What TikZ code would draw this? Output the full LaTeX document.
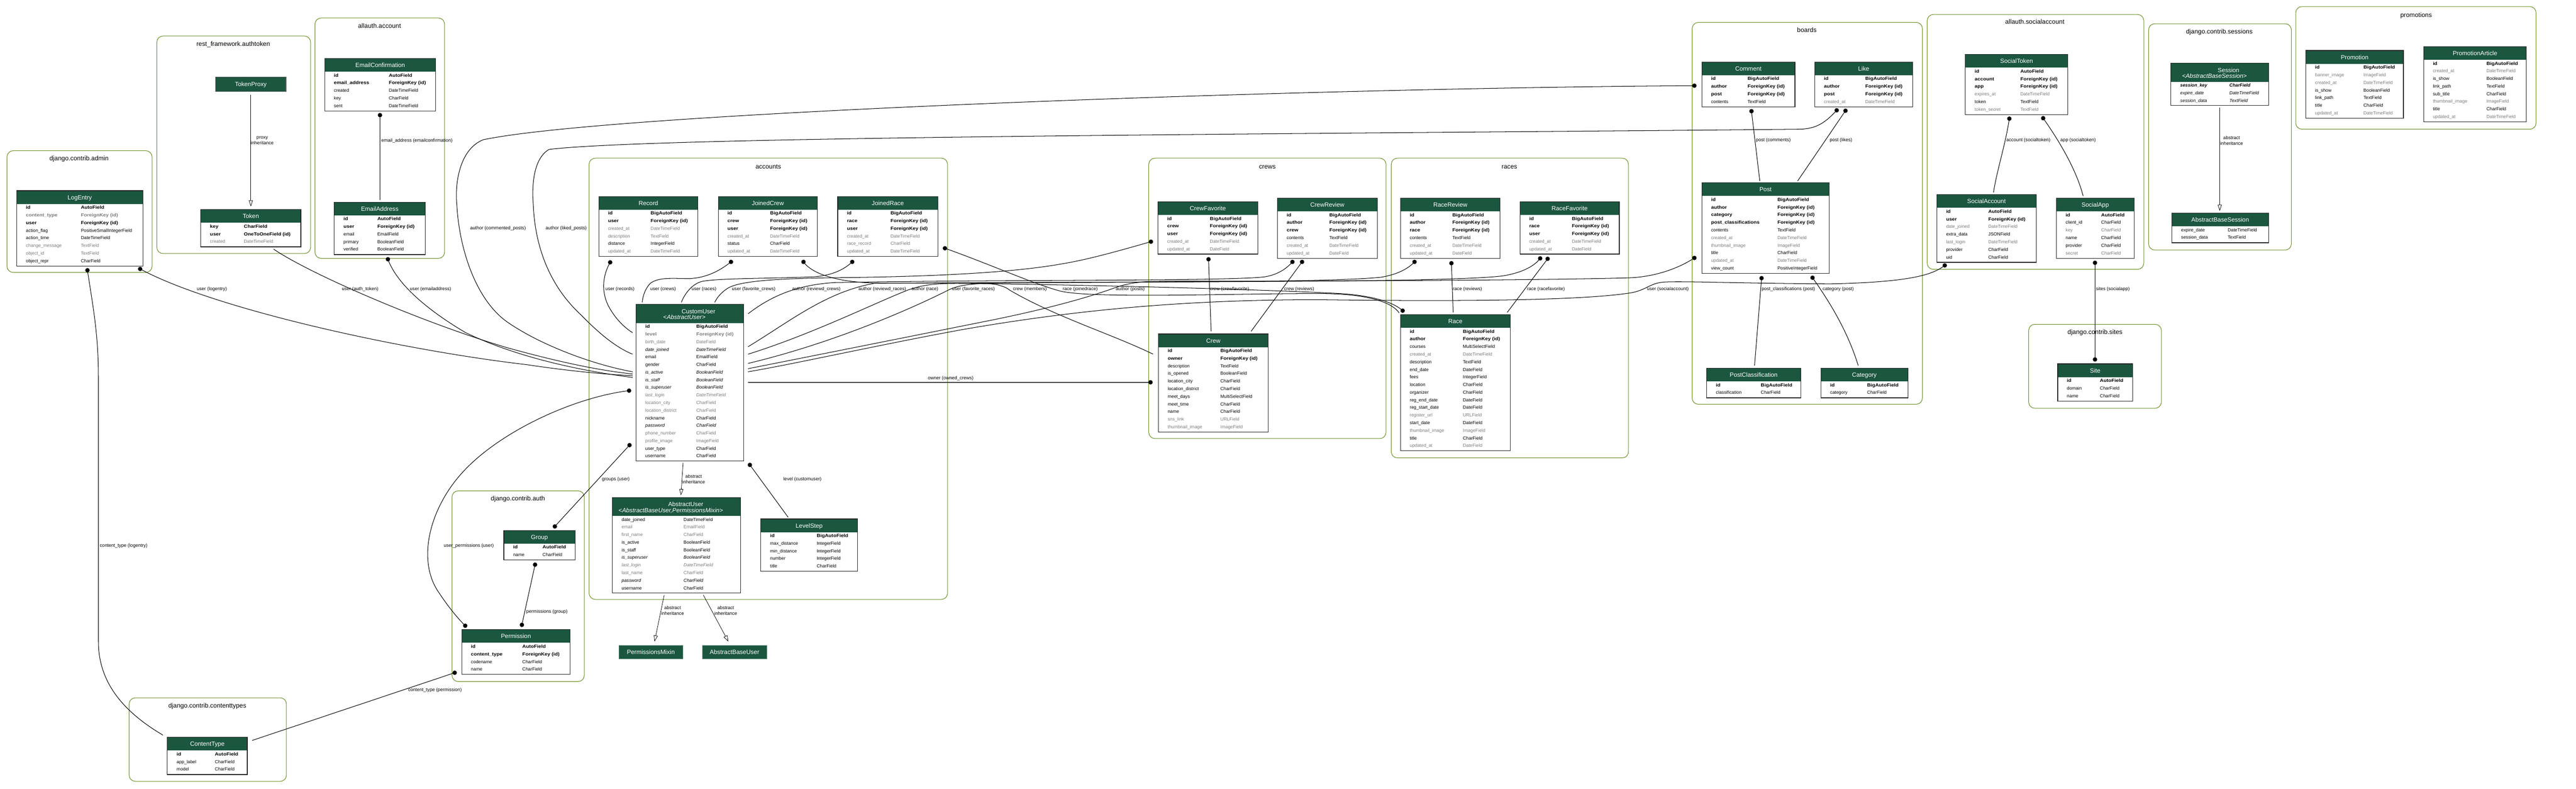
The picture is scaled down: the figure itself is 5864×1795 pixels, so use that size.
\documentclass[tikz,border=0pt]{standalone}
\usepackage{fontspec}
\setmainfont{Liberation Sans}[BoldFeatures={FakeStretch=1.12}]
\usetikzlibrary{arrows.meta}
\definecolor{hdr}{HTML}{1B563F}
\definecolor{olive}{HTML}{698B22}
\definecolor{fgrey}{HTML}{7B7B7B}
\newcommand{\rowfont}{\fontsize{10.3}{12}\selectfont}
\newcommand{\hdrfont}{\fontsize{13.8}{16}\selectfont}
\newcommand{\lblfont}{\fontsize{10.6}{13}\selectfont}
\newcommand{\clfont}{\fontsize{14.5}{17}\selectfont}
% #1 name, #2 x, #3 y, #4 width, #5 height, #6 header height, #7 type column offset, #8 title, #9 rows
\newcommand{\mtable}[9]{%
  \node[tblbox, minimum width=#4pt, minimum height=#5pt, anchor=north west] (#1) at (#2,#3) {};
  \fill[hdr] (#2,#3) rectangle ++(#4,#6);
  \node[hdrtxt] at ({#2+#4/2},{#3+#6/2+5}) {#8};
  \foreach \st/\fn/\ft [count=\i from 0] in {#9} {
    \node[row\st] at ({#2+21},{#3+#6+11.8+17.33*\i}) {\fn};
    \node[row\st] at ({#2+#7},{#3+#6+11.8+17.33*\i}) {\ft};
  }
  \draw[tblborder] (#1.north west) rectangle (#1.south east);
}
\newcommand{\port}[4]{\coordinate (#1) at ([shift={(#3,#4)}]#2.north west);}
\begin{document}
\begin{tikzpicture}[x=1pt,y=-1pt,
  tblbox/.style={fill=white, inner sep=0pt, outer sep=0pt, draw=none},
  tblborder/.style={draw=black!85, line width=1.4pt},
  hdrtxt/.style={text=white, font=\hdrfont, anchor=base, inner sep=0pt},
  rowbase/.style={anchor=base west, inner sep=0pt, font=\rowfont},
  rown/.style={rowbase},
  rowb/.style={rowbase, font=\rowfont\bfseries},
  rowg/.style={rowbase, text=fgrey},
  rowgb/.style={rowbase, text=fgrey, font=\rowfont\bfseries},
  rowi/.style={rowbase, font=\rowfont\itshape},
  rowgi/.style={rowbase, text=fgrey, font=\rowfont\itshape},
  rowbi/.style={rowbase, font=\rowfont\bfseries\itshape},
  cl/.style={draw=olive, line width=1.2pt, rounded corners=14pt},
  cltitle/.style={font=\clfont, anchor=base, inner sep=0pt},
  rel/.style={line width=1.2pt},
  inh/.style={line width=0.9pt, -{Triangle[open, length=14pt, width=9pt]}},
  lbl/.style={font=\lblfont, anchor=base west, inner sep=0pt},
  lbl2/.style={font=\lblfont, align=center, inner sep=0pt},
  absnode/.style={fill=hdr, draw=hdr!70!white, line width=0.8pt, text=white, font=\fontsize{14}{16}\selectfont, inner sep=0pt, outer sep=0pt, anchor=north west}
]
\useasboundingbox (0,0) rectangle (5864,1795);
\fill[white] (0,0) rectangle (5864,1795);

% ---------- clusters ----------
\draw[cl] (16,343) rectangle (346,620);     \node[cltitle] at (180,365) {django.contrib.admin};
\draw[cl] (357,82) rectangle (707,577);     \node[cltitle] at (531,105) {rest\_framework.authtoken};
\draw[cl] (717,41) rectangle (1012,588);    \node[cltitle] at (864,64) {allauth.account};
\draw[cl] (1341,360) rectangle (2157,1364); \node[cltitle] at (1749,384) {accounts};
\draw[cl] (1029,1117) rectangle (1330,1551);\node[cltitle] at (1179,1139) {django.contrib.auth};
\draw[cl] (294,1588) rectangle (652,1778);  \node[cltitle] at (472,1611) {django.contrib.contenttypes};
\draw[cl] (2615,360) rectangle (3155,998);  \node[cltitle] at (2885,384) {crews};
\draw[cl] (3167,360) rectangle (3707,1042); \node[cltitle] at (3436,384) {races};
\draw[cl] (3852,51) rectangle (4376,920);   \node[cltitle] at (4113,73) {boards};
\draw[cl] (4387,33) rectangle (4880,613);   \node[cltitle] at (4632,55) {allauth.socialaccount};
\draw[cl] (4618,738) rectangle (4920,929);  \node[cltitle] at (4769,761) {django.contrib.sites};
\draw[cl] (4891,54) rectangle (5216,569);   \node[cltitle] at (5052,77) {django.contrib.sessions};
\draw[cl] (5226,15) rectangle (5773,294);   \node[cltitle] at (5500,39) {promotions};

% ---------- tables ----------
\mtable{LogEntry}{38}{434}{287}{171.3}{30}{146}{LogEntry}{b/id/AutoField, gb/content\_type/ForeignKey (id), b/user/ForeignKey (id), n/action\_flag/PositiveSmallIntegerField, n/action\_time/DateTimeField, g/change\_message/TextField, g/object\_id/TextField, n/object\_repr/CharField}

\node[tblbox, fill=hdr, minimum width=160pt, minimum height=33pt, anchor=north west] (TokenProxy) at (491,175) {};
\node[hdrtxt] at (571,196.5) {TokenProxy};
\draw[tblborder, draw=black!65] (TokenProxy.north west) rectangle (TokenProxy.south east);

\mtable{Token}{457}{477}{228}{84.7}{30}{98}{Token}{b/key/CharField, b/user/OneToOneField (id), g/created/DateTimeField}
\mtable{EmailConfirmation}{739}{133}{253}{119.3}{30}{146}{EmailConfirmation}{b/id/AutoField, b/email\_address/ForeignKey (id), n/created/DateTimeField, n/key/CharField, n/sent/DateTimeField}
\mtable{EmailAddress}{761}{460}{207}{119.3}{30}{98}{EmailAddress}{b/id/AutoField, b/user/ForeignKey (id), n/email/EmailField, n/primary/BooleanField, n/verified/BooleanField}

\mtable{Record}{1363}{447}{226}{136.7}{30}{118}{Record}{b/id/BigAutoField, b/user/ForeignKey (id), g/created\_at/DateTimeField, g/description/TextField, n/distance/IntegerField, g/updated\_at/DateTimeField}
\mtable{JoinedCrew}{1635}{447}{226}{136.7}{30}{118}{JoinedCrew}{b/id/BigAutoField, b/crew/ForeignKey (id), b/user/ForeignKey (id), g/created\_at/DateTimeField, n/status/CharField, g/updated\_at/DateTimeField}
\mtable{JoinedRace}{1907}{447}{228}{136.7}{30}{120}{JoinedRace}{b/id/BigAutoField, b/race/ForeignKey (id), b/user/ForeignKey (id), g/created\_at/DateTimeField, g/race\_record/CharField, g/updated\_at/DateTimeField}

\mtable{CustomUser}{1448}{693}{245}{355.6}{42}{137}{}{b/id/BigAutoField, gb/level/ForeignKey (id), g/birth\_date/DateField, i/date\_joined/DateTimeField, n/email/EmailField, n/gender/CharField, i/is\_active/BooleanField, i/is\_staff/BooleanField, i/is\_superuser/BooleanField, gi/last\_login/DateTimeField, g/location\_city/CharField, g/location\_district/CharField, n/nickname/CharField, i/password/CharField, g/phone\_number/CharField, g/profile\_image/ImageField, n/user\_type/CharField, n/username/CharField}
\node[hdrtxt] at (1590,714) {CustomUser};
\node[hdrtxt] at (1558,727) {<\textit{AbstractUser}>};

\mtable{AbstractUser}{1394}{1132}{292}{217}{42}{162}{}{n/date\_joined/DateTimeField, g/email/EmailField, g/first\_name/CharField, n/is\_active/BooleanField, n/is\_staff/BooleanField, i/is\_superuser/BooleanField, gi/last\_login/DateTimeField, g/last\_name/CharField, i/password/CharField, n/username/CharField}
\node[hdrtxt] at (1561,1152) {AbstractUser};
\node[hdrtxt] at (1527,1166) {<\textit{AbstractBaseUser,PermissionsMixin}>};

\mtable{LevelStep}{1732}{1181}{220}{119.3}{30}{127}{LevelStep}{b/id/BigAutoField, n/max\_distance/IntegerField, n/min\_distance/IntegerField, n/number/IntegerField, n/title/CharField}

\node[absnode, minimum width=145pt, minimum height=30pt] (PermissionsMixin) at (1409,1469) {PermissionsMixin};
\node[absnode, minimum width=146pt, minimum height=30pt] (AbstractBaseUser) at (1599,1469) {AbstractBaseUser};

\mtable{Group}{1147}{1207}{162}{67.3}{30}{88}{Group}{b/id/AutoField, n/name/CharField}
\mtable{Permission}{1051}{1433}{247}{102}{30}{138}{Permission}{b/id/AutoField, b/content\_type/ForeignKey (id), n/codename/CharField, n/name/CharField}
\mtable{ContentType}{381}{1678}{182}{84.7}{30}{108}{ContentType}{b/id/AutoField, n/app\_label/CharField, n/model/CharField}

\mtable{CrewFavorite}{2636}{459}{227}{119.3}{30}{118}{CrewFavorite}{b/id/BigAutoField, b/crew/ForeignKey (id), b/user/ForeignKey (id), g/created\_at/DateTimeField, g/updated\_at/DateField}
\mtable{CrewReview}{2908}{451}{227}{136.7}{30}{118}{CrewReview}{b/id/BigAutoField, b/author/ForeignKey (id), b/crew/ForeignKey (id), n/contents/TextField, g/created\_at/DateTimeField, g/updated\_at/DateField}
\mtable{Crew}{2637}{760}{250}{223.3}{30}{141}{Crew}{b/id/BigAutoField, b/owner/ForeignKey (id), n/description/TextField, n/is\_opened/BooleanField, n/location\_city/CharField, n/location\_district/CharField, n/meet\_days/MultiSelectField, n/meet\_time/CharField, n/name/CharField, g/sns\_link/URLField, g/thumbnail\_image/ImageField}

\mtable{RaceReview}{3188}{451}{227}{136.7}{30}{118}{RaceReview}{b/id/BigAutoField, b/author/ForeignKey (id), b/race/ForeignKey (id), n/contents/TextField, g/created\_at/DateTimeField, g/updated\_at/DateField}
\mtable{RaceFavorite}{3460}{459}{226}{119.3}{30}{118}{RaceFavorite}{b/id/BigAutoField, b/race/ForeignKey (id), b/user/ForeignKey (id), g/created\_at/DateTimeField, g/updated\_at/DateField}
\mtable{Race}{3188}{716}{250}{310}{30}{142}{Race}{b/id/BigAutoField, b/author/ForeignKey (id), n/courses/MultiSelectField, g/created\_at/DateTimeField, n/description/TextField, n/end\_date/DateField, n/fees/IntegerField, n/location/CharField, n/organizer/CharField, n/reg\_end\_date/DateField, n/reg\_start\_date/DateField, g/register\_url/URLField, n/start\_date/DateField, g/thumbnail\_image/ImageField, n/title/CharField, g/updated\_at/DateField}

\mtable{Comment}{3874}{141}{212}{102}{30}{104}{Comment}{b/id/BigAutoField, b/author/ForeignKey (id), b/post/ForeignKey (id), n/contents/TextField}
\mtable{Like}{4131}{141}{223}{102}{30}{115}{Like}{b/id/BigAutoField, b/author/ForeignKey (id), b/post/ForeignKey (id), g/created\_at/DateTimeField}
\mtable{Post}{3874}{416}{290}{206}{30}{172}{Post}{b/id/BigAutoField, b/author/ForeignKey (id), b/category/ForeignKey (id), b/post\_classifications/ForeignKey (id), n/contents/TextField, g/created\_at/DateTimeField, g/thumbnail\_image/ImageField, n/title/CharField, g/updated\_at/DateTimeField, n/view\_count/PositiveIntegerField}
\mtable{PostClassification}{3885}{838}{214}{67.3}{30}{123}{PostClassification}{b/id/BigAutoField, n/classification/CharField}
\mtable{Category}{4145}{838}{198}{67.3}{30}{105}{Category}{b/id/BigAutoField, n/category/CharField}

\mtable{SocialToken}{4474}{124}{233}{136.7}{30}{125}{SocialToken}{b/id/AutoField, b/account/ForeignKey (id), b/app/ForeignKey (id), g/expires\_at/DateTimeField, n/token/TextField, g/token\_secret/TextField}
\mtable{SocialAccount}{4409}{443}{226}{154}{30}{117}{SocialAccount}{b/id/AutoField, b/user/ForeignKey (id), g/date\_joined/DateTimeField, n/extra\_data/JSONField, g/last\_login/DateTimeField, n/provider/CharField, n/uid/CharField}
\mtable{SocialApp}{4681}{451}{177}{136.7}{30}{102}{SocialApp}{b/id/AutoField, n/client\_id/CharField, g/key/CharField, n/name/CharField, n/provider/CharField, g/secret/CharField}
\mtable{Site}{4684}{828}{171}{84.7}{30}{96}{Site}{b/id/AutoField, n/domain/CharField, n/name/CharField}

\mtable{Session}{4942}{144}{222}{95.7}{42}{133}{}{bi/session\_key/CharField, i/expire\_date/DateTimeField, i/session\_data/TextField}
\node[hdrtxt] at (5073,165) {Session};
\node[hdrtxt] at (5041,178) {<\textit{AbstractBaseSession}>};
\mtable{AbstractBaseSession}{4944}{485}{220}{67.3}{30}{127}{AbstractBaseSession}{n/expire\_date/DateTimeField, n/session\_data/TextField}

\mtable{Promotion}{5249}{115}{222}{154}{30}{131}{Promotion}{b/id/BigAutoField, g/banner\_image/ImageField, g/created\_at/DateTimeField, n/is\_show/BooleanField, n/link\_path/TextField, n/title/CharField, g/updated\_at/DateTimeField}
\mtable{PromotionArticle}{5517}{106}{234}{171.3}{30}{143}{PromotionArticle}{b/id/BigAutoField, g/created\_at/DateTimeField, n/is\_show/BooleanField, n/link\_path/TextField, n/sub\_title/CharField, g/thumbnail\_image/ImageField, n/title/CharField, g/updated\_at/DateTimeField}

% ---------- ports ----------
\port{le-ct}{LogEntry}{161}{181}
\port{le-u}{LogEntry}{281}{178}
\port{tp-s}{TokenProxy}{80}{41}
\port{tk-n}{Token}{114}{-7}
\port{tk-u}{Token}{166}{90}
\port{ec-ea}{EmailConfirmation}{126}{129}
\port{ea-n}{EmailAddress}{104}{-5}
\port{ea-u}{EmailAddress}{122}{130}
\port{rec-u}{Record}{26}{150}
\port{jc-u}{JoinedCrew}{29}{149}
\port{jc-c}{JoinedCrew}{194}{149}
\port{jr-u}{JoinedRace}{33}{149}
\port{jr-r}{JoinedRace}{244}{118}
\port{cu-rec}{CustomUser}{-8}{64}
\port{cu-crews}{CustomUser}{14}{-5}
\port{cu-races}{CustomUser}{103}{-5}
\port{cu-fc}{CustomUser}{179}{-5}
\port{cu-rcrew}{CustomUser}{255}{21}
\port{cu-rrace}{CustomUser}{255}{96}
\port{cu-race}{CustomUser}{255}{113}
\port{cu-fr}{CustomUser}{255}{134}
\port{cu-posts}{CustomUser}{255}{146}
\port{cu-sa}{CustomUser}{255}{153}
\port{cu-own}{CustomUser}{255}{177}
\port{cu-liked}{CustomUser}{-8}{113}
\port{cu-comm}{CustomUser}{-8}{153}
\port{cu-auth}{CustomUser}{-8}{158}
\port{cu-log}{CustomUser}{-8}{162}
\port{cu-ea}{CustomUser}{-8}{166}
\port{cu-up}{CustomUser}{-16}{196}
\port{cu-gr}{CustomUser}{-15}{320}
\port{cu-lvl}{CustomUser}{259}{365}
\port{cu-inh}{CustomUser}{107}{360}
\port{au-n}{AbstractUser}{156}{-5}
\port{au-pm}{AbstractUser}{118}{222}
\port{au-abu}{AbstractUser}{207}{222}
\port{pm-n}{PermissionsMixin}{81}{-9}
\port{abu-n}{AbstractBaseUser}{59}{-9}
\port{ls-n}{LevelStep}{62}{-4}
\port{gr-n}{Group}{116}{-9}
\port{gr-s}{Group}{71}{78}
\port{pe-n}{Permission}{137}{-11}
\port{pe-nw}{Permission}{8}{-9}
\port{pe-w}{Permission}{-16}{98}
\port{ct-nw}{ContentType}{-10}{-5}
\port{ct-ne}{ContentType}{193}{7}
\port{cf-u}{CrewFavorite}{-16}{91}
\port{cf-c}{CrewFavorite}{115}{131}
\port{cr-a}{CrewReview}{34}{145}
\port{cr-c}{CrewReview}{56}{145}
\port{cw-fav}{Crew}{120}{-6}
\port{cw-rev}{Crew}{211}{-6}
\port{cw-own}{Crew}{-18}{110}
\port{cw-mem}{Crew}{-12}{46}
\port{rr-a}{RaceReview}{32}{145}
\port{rr-r}{RaceReview}{116}{148}
\port{rf-u}{RaceFavorite}{46}{129}
\port{rf-r}{RaceFavorite}{63}{130}
\port{ra-rev}{Race}{120}{-5}
\port{ra-fav}{Race}{243}{-5}
\port{ra-a}{Race}{5}{-9}
\port{ra-jr}{Race}{-3}{-4}
\port{co-a}{Comment}{-17}{54}
\port{co-p}{Comment}{113}{112}
\port{li-a}{Like}{50}{110}
\port{li-p}{Like}{70}{111}
\port{po-c}{Post}{132}{-4}
\port{po-l}{Post}{218}{-4}
\port{po-a}{Post}{-17}{171}
\port{po-pc}{Post}{136}{217}
\port{po-cat}{Post}{252}{216}
\port{pc-n}{PostClassification}{109}{-6}
\port{cat-n}{Category}{85}{-6}
\port{st-acc}{SocialToken}{100}{146}
\port{st-app}{SocialToken}{177}{145}
\port{sa-n}{SocialAccount}{129}{-5}
\port{sa-u}{SocialAccount}{18}{161}
\port{sp-n}{SocialApp}{61}{-5}
\port{sp-s}{SocialApp}{88}{147}
\port{si-n}{Site}{85}{-10}
\port{se-s}{Session}{111}{101}
\port{abs-n}{AbstractBaseSession}{109}{-5}

% ---------- connectors ----------
\draw[inh] (tp-s) -- (tk-n);
\draw[rel] (ec-ea) -- (ea-n);
\draw[rel] (le-ct) .. controls (212,700) and (224,760) .. (224,860) -- (224,1460) .. controls (224,1560) and (290,1625) .. (ct-nw);
\draw[rel] (le-u) .. controls (480,700) and (900,795) .. (1200,830) .. controls (1300,845) and (1380,852) .. (cu-log);
\draw[rel] (tk-u) .. controls (700,620) and (950,730) .. (1150,790) .. controls (1300,832) and (1390,846) .. (cu-auth);
\draw[rel] (ea-u) .. controls (905,650) and (980,710) .. (1060,757) .. controls (1180,815) and (1330,845) .. (cu-ea);
\draw[rel] (co-a) .. controls (3000,200) and (1400,255) .. (1100,318) .. controls (1045,340) and (1035,420) .. (1040,467) .. controls (1045,560) and (1080,680) .. (1155,733) .. controls (1230,785) and (1350,830) .. (cu-comm);
\draw[rel] (li-a) .. controls (4150,285) and (4130,292) .. (4100,294) .. controls (3000,305) and (1500,310) .. (1250,340) .. controls (1215,360) and (1210,420) .. (1214,467) .. controls (1218,560) and (1250,650) .. (1323,717) .. controls (1360,755) and (1400,790) .. (cu-liked);
\draw[rel] (li-p) -- (po-l);
\draw[rel] (co-p) -- (po-c);
\draw[rel] (po-pc) -- (pc-n);
\draw[rel] (po-cat) .. controls (4160,680) and (4205,750) .. (cat-n);
\draw[rel] (st-acc) .. controls (4565,330) and (4545,390) .. (sa-n);
\draw[rel] (st-app) .. controls (4680,310) and (4725,380) .. (sp-n);
\draw[rel] (sp-s) -- (si-n);
\draw[rel] (sa-u) .. controls (4400,625) and (4350,642) .. (4167,646) .. controls (3950,645) and (3800,638) .. (3779,643) .. controls (3755,647) and (3745,660) .. (3715,666) .. controls (3600,685) and (3300,686) .. (3000,682) .. controls (2700,682) and (2450,705) .. (2191,750) .. controls (2000,785) and (1800,830) .. (cu-sa);
\draw[rel] (po-a) .. controls (3830,605) and (3780,628) .. (3715,632) .. controls (3600,636) and (3200,640) .. (2650,640) .. controls (2590,640) and (2565,645) .. (2532,657) .. controls (2490,672) and (2400,700) .. (2250,730) .. controls (2100,760) and (1900,800) .. (cu-posts);
\draw[rel, line width=1.8pt, black!75] (cu-own) -- (cw-own);
\draw[rel] (cu-rcrew) .. controls (1760,670) and (1820,648) .. (1900,643) .. controls (2300,636) and (2800,640) .. (2879,630) .. controls (2910,625) and (2930,610) .. (cr-a);
\draw[rel] (cu-rrace) .. controls (1800,730) and (1880,665) .. (1989,645) .. controls (2500,640) and (3000,645) .. (3143,631) .. controls (3180,625) and (3205,612) .. (rr-a);
\draw[rel] (cu-race) .. controls (1850,760) and (1990,690) .. (2067,660) .. controls (2100,648) and (2130,645) .. (2180,645) .. controls (2500,648) and (2900,660) .. (3050,668) .. controls (3130,673) and (3175,690) .. (ra-a);
\draw[rel] (cu-fr) .. controls (1900,780) and (2080,700) .. (2159,660) .. controls (2185,647) and (2220,645) .. (2280,644) .. controls (2800,640) and (3300,642) .. (3420,628) .. controls (3470,620) and (3495,603) .. (rf-u);
\draw[rel] (jc-c) .. controls (1850,625) and (1910,642) .. (1990,644) .. controls (2120,646) and (2230,640) .. (2270,648) .. controls (2285,652) and (2292,655) .. (2298,660) .. controls (2400,720) and (2530,760) .. (cw-mem);
\draw[rel] (jr-r) .. controls (2250,600) and (2350,645) .. (2412,662) .. controls (2480,680) and (2800,668) .. (3000,668) .. controls (3120,668) and (3170,690) .. (ra-jr);
\draw[rel] (cf-u) .. controls (2550,570) and (2480,590) .. (2420,600) .. controls (2300,622) and (2100,630) .. (1900,632) .. controls (1760,634) and (1680,640) .. (1655,657) .. controls (1640,667) and (1632,678) .. (cu-fc);
\draw[rel] (jr-u) .. controls (1920,615) and (1890,628) .. (1850,630) .. controls (1750,634) and (1640,633) .. (1600,640) .. controls (1575,645) and (1558,670) .. (cu-races);
\draw[rel] (jc-u) .. controls (1640,615) and (1610,632) .. (1570,634) .. controls (1530,634) and (1500,630) .. (1480,645) .. controls (1468,658) and (1463,675) .. (cu-crews);
\draw[rel] (rec-u) .. controls (1370,630) and (1368,670) .. (1390,705) .. controls (1405,730) and (1425,748) .. (cu-rec);
\draw[rel] (cf-c) -- (cw-fav);
\draw[rel] (cr-c) -- (cw-rev);
\draw[rel] (rr-r) -- (ra-rev);
\draw[rel] (rf-r) -- (ra-fav);
\draw[rel] (cu-lvl) -- (ls-n);
\draw[inh] (cu-inh) -- (au-n);
\draw[inh] (au-pm) -- (pm-n);
\draw[inh] (au-abu) -- (abu-n);
\draw[rel] (cu-gr) -- (gr-n);
\draw[rel] (gr-s) -- (pe-n);
\draw[rel] (cu-up) .. controls (1300,905) and (1120,990) .. (1040,1090) .. controls (975,1170) and (950,1280) .. (1000,1350) .. controls (1020,1380) and (1040,1405) .. (pe-nw);
\draw[rel] (pe-w) -- (ct-ne);
\draw[inh] (se-s) -- (abs-n);

% dots
\foreach \p in {le-ct, le-u, ec-ea, ea-u, rec-u, jc-u, jc-c, jr-u, jr-r, cu-up, cu-gr, cu-lvl, gr-n, gr-s, pe-n, pe-nw, pe-w, cf-u, cf-c, cr-a, cr-c, cw-own, rr-a, rr-r, rf-u, rf-r, ra-a, co-a, co-p, li-a, li-p, po-a, po-pc, po-cat, st-acc, st-app, sa-u, sp-s, si-n}
  \fill (\p) circle[radius=5pt];

% ---------- labels ----------
\node[lbl2] at (597,320) {proxy\\inheritance};
\node[lbl] at (868,323.5) {email\_address (emailconfirmation)};
\node[lbl] at (227,1244.5) {content\_type (logentry)};
\node[lbl] at (448,660.5) {user (logentry)};
\node[lbl] at (778,660.5) {user (auth\_token)};
\node[lbl] at (933,660.5) {user (emailaddress)};
\node[lbl] at (1070,522.5) {author (commented\_posts)};
\node[lbl] at (1242,522.5) {author (liked\_posts)};
\node[lbl] at (1378,660.5) {user (records)};
\node[lbl] at (1480,660.5) {user (crews)};
\node[lbl] at (1574,660.5) {user (races)};
\node[lbl] at (1666,660.5) {user (favorite\_crews)};
\node[lbl] at (1803,660.5) {author (reviewd\_crews)};
\node[lbl] at (1954,660.5) {author (reviewd\_races)};
\node[lbl] at (2075,660.5) {author (race)};
\node[lbl] at (2167,660.5) {user (favorite\_races)};
\node[lbl] at (2306,660.5) {crew (members)};
\node[lbl] at (2419,660.5) {race (joinedrace)};
\node[lbl] at (2540,660.5) {author (posts)};
\node[lbl] at (2754,660.5) {crew (crewfavorite)};
\node[lbl] at (2923,660.5) {crew (reviews)};
\node[lbl] at (3307,660.5) {race (reviews)};
\node[lbl] at (3476,660.5) {race (racefavorite)};
\node[lbl] at (3749,660.5) {user (socialaccount)};
\node[lbl] at (4010,660.5) {post\_classifications (post)};
\node[lbl] at (4149,660.5) {category (post)};
\node[lbl] at (4771,660.5) {sites (socialapp)};
\node[lbl] at (2112,863.5) {owner (owned\_crews)};
\node[lbl] at (3997,322.5) {post (comments)};
\node[lbl] at (4165,322.5) {post (likes)};
\node[lbl] at (4567,322.5) {account (socialtoken)};
\node[lbl] at (4690,322.5) {app (socialtoken)};
\node[lbl] at (1783,1093.5) {level (customuser)};
\node[lbl2] at (1579,1090) {abstract\\inheritance};
\node[lbl2] at (1531,1390) {abstract\\inheritance};
\node[lbl2] at (1652,1390) {abstract\\inheritance};
\node[lbl] at (1370,1093.5) {groups (user)};
\node[lbl] at (1198,1394.5) {permissions (group)};
\node[lbl] at (1010,1244.5) {user\_permissions (user)};
\node[lbl] at (929,1573.5) {content\_type (permission)};
\node[lbl2] at (5080,320) {abstract\\inheritance};
\end{tikzpicture}
\end{document}
